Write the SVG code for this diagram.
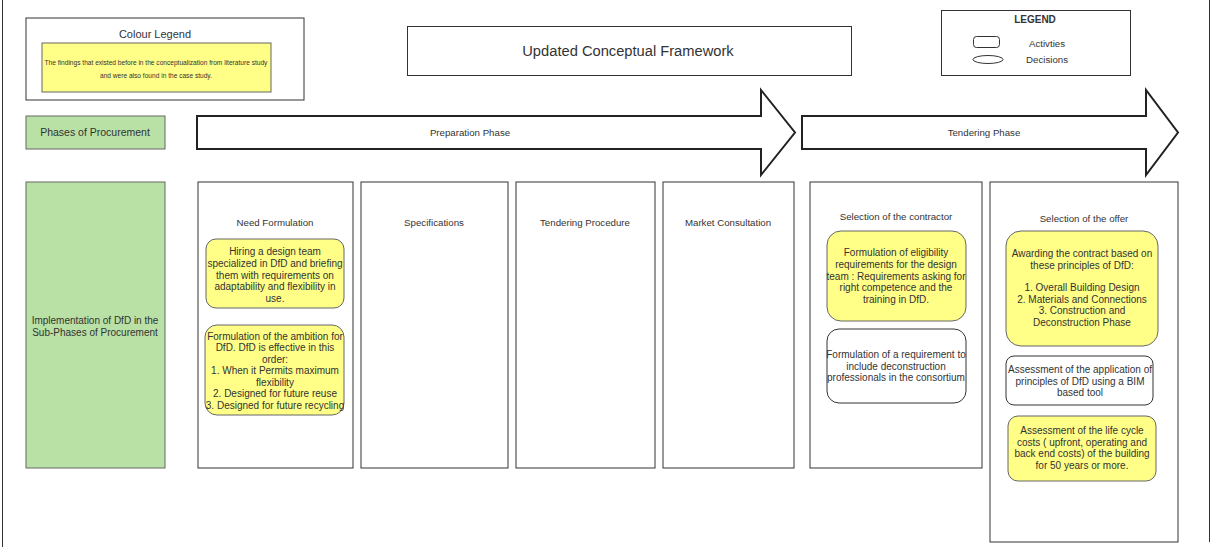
<svg xmlns="http://www.w3.org/2000/svg" width="1212" height="547" viewBox="0 0 1212 547">
<style>
text{font-family:"Liberation Sans",Arial,sans-serif;fill:#333;text-anchor:middle}
.box{fill:#fff;stroke:#333;stroke-width:1}
.col{fill:#fff;stroke:#333;stroke-width:1}
.yel{fill:#ffff88;stroke:#666;stroke-width:1}
.wht{fill:#fff;stroke:#333;stroke-width:1}
.grn{fill:#b9e0a5;stroke:#666;stroke-width:1}
.arr{fill:#fff;stroke:#222;stroke-width:2}
.t11{font-size:10px}
.t10{font-size:9.7px}
</style>
<rect width="1212" height="547" fill="#fff"/>
<g id="frame">
<line x1="2.5" y1="0" x2="2.5" y2="547" stroke="#333" stroke-width="1"/>
<line x1="1209.5" y1="0" x2="1209.5" y2="542" stroke="#333" stroke-width="1"/>
</g>
<g id="colour-legend">
<rect class="box" x="26" y="18" width="278" height="82"/>
<text x="155" y="38" font-size="11px">Colour Legend</text>
<rect class="yel" x="42" y="43" width="229" height="49"/>
<text x="156" y="65" font-size="6.6px">The findings that existed before in the conceptualization from literature study</text>
<text x="156" y="78" font-size="6.6px">and were also found in the case study.</text>
</g>
<g id="title">
<rect class="box" x="407.5" y="26.5" width="444" height="49"/>
<text x="628" y="56" font-size="14.7px">Updated Conceptual Framework</text>
</g>
<g id="legend">
<rect class="box" x="941.5" y="10.5" width="189" height="65"/>
<text x="1035" y="23" font-size="10px" font-weight="bold" fill="#222">LEGEND</text>
<rect x="973.5" y="36.5" width="26" height="11" rx="3" fill="#fff" stroke="#333"/>
<ellipse cx="988" cy="59.5" rx="15" ry="4" fill="#fff" stroke="#333"/>
<text x="1047" y="47" class="t10">Activties</text>
<text x="1047" y="63" class="t10">Decisions</text>
</g>
<g id="phases">
<rect class="grn" x="26" y="116" width="139" height="33"/>
<text x="95" y="136" font-size="10.5px">Phases of Procurement</text>
</g>
<g id="preparation-phase">
<path class="arr" d="M197,116 H761 V90 L795,132.5 L761,175 V149 H197 Z"/>
<text x="470" y="136" class="t10">Preparation Phase</text>
</g>
<g id="tendering-phase">
<path class="arr" d="M802,116 H1146 V90 L1178,132.5 L1146,175 V149 H802 Z"/>
<text x="984" y="136" class="t10">Tendering Phase</text>
</g>
<g id="implementation">
<rect class="grn" x="26" y="182" width="139" height="286"/>
<text x="95" y="324" class="t11">Implementation of DfD in the</text>
<text x="95" y="336" class="t11">Sub-Phases of Procurement</text>
</g>
<g id="need-formulation">
<rect class="col" x="198" y="182" width="155" height="286"/>
<text x="275" y="226" class="t10">Need Formulation</text>
</g>
<g id="hiring">
<rect class="yel" x="206" y="239" width="138" height="69" rx="10"/>
<text class="t11"><tspan x="275" y="255">Hiring a design team</tspan><tspan x="275" y="267">specialized in DfD and briefing</tspan><tspan x="275" y="278.5">them with requirements on</tspan><tspan x="275" y="290">adaptability and flexibility in</tspan><tspan x="275" y="301.5">use.</tspan></text>
</g>
<g id="ambition">
<rect class="yel" x="205" y="325" width="139" height="90" rx="12"/>
<text class="t11"><tspan x="275" y="339.5">Formulation of the ambition for</tspan><tspan x="275" y="351">DfD. DfD is effective in this</tspan><tspan x="275" y="362.5">order:</tspan><tspan x="275" y="374">1.  When it Permits maximum</tspan><tspan x="275" y="385.5">flexibility</tspan><tspan x="275" y="397">2. Designed for future reuse</tspan><tspan x="275" y="408.5">3. Designed for future recycling</tspan></text>
</g>
<g id="specifications">
<rect class="col" x="361" y="182" width="147" height="286"/>
<text x="434" y="226" class="t10">Specifications</text>
</g>
<g id="tendering-procedure">
<rect class="col" x="516" y="182" width="139" height="286"/>
<text x="585" y="226" class="t10">Tendering Procedure</text>
</g>
<g id="market-consultation">
<rect class="col" x="663" y="182" width="131" height="286"/>
<text x="728" y="226" class="t10">Market Consultation</text>
</g>
<g id="selection-contractor">
<rect class="col" x="810" y="182" width="172" height="286"/>
<text x="896" y="220" class="t10">Selection of the contractor</text>
</g>
<g id="eligibility">
<rect class="yel" x="827" y="231" width="139" height="90" rx="14"/>
<text class="t11"><tspan x="896" y="256">Formulation of eligibility</tspan><tspan x="896" y="268">requirements for the design</tspan><tspan x="896" y="279.5">team : Requirements asking for</tspan><tspan x="896" y="291">right competence and the</tspan><tspan x="896" y="302.5">training  in DfD.</tspan></text>
</g>
<g id="consortium">
<rect class="wht" x="827" y="329" width="139" height="74" rx="12"/>
<text class="t11"><tspan x="896" y="358">Formulation of a requirement to</tspan><tspan x="896" y="369.5">include deconstruction</tspan><tspan x="896" y="381">professionals in the consortium</tspan></text>
</g>
<g id="selection-offer">
<rect class="col" x="990" y="182" width="188" height="360"/>
<text x="1084" y="222" class="t10">Selection of the offer</text>
</g>
<g id="awarding">
<rect class="yel" x="1006" y="231" width="152" height="115" rx="15"/>
<text class="t11"><tspan x="1082" y="257">Awarding the contract based on</tspan><tspan x="1082" y="269">these principles of DfD:</tspan><tspan x="1082" y="291">1. Overall Building Design</tspan><tspan x="1082" y="302.5">2. Materials and Connections</tspan><tspan x="1082" y="314">3. Construction and</tspan><tspan x="1082" y="325.5">Deconstruction Phase</tspan></text>
</g>
<g id="bim">
<rect class="wht" x="1006" y="356" width="147" height="49" rx="8"/>
<text class="t11"><tspan x="1080" y="373">Assessment of the application of</tspan><tspan x="1080" y="384.5">principles of DfD using a BIM</tspan><tspan x="1080" y="396">based tool</tspan></text>
</g>
<g id="lcc">
<rect class="yel" x="1008" y="416" width="148" height="65" rx="10"/>
<text class="t11"><tspan x="1082" y="434">Assessment of the life cycle</tspan><tspan x="1082" y="445.5">costs ( upfront, operating and</tspan><tspan x="1082" y="457">back end costs) of the building</tspan><tspan x="1082" y="468.5">for 50 years or more.</tspan></text>
</g>
<g id="connectors"></g>
</svg>
